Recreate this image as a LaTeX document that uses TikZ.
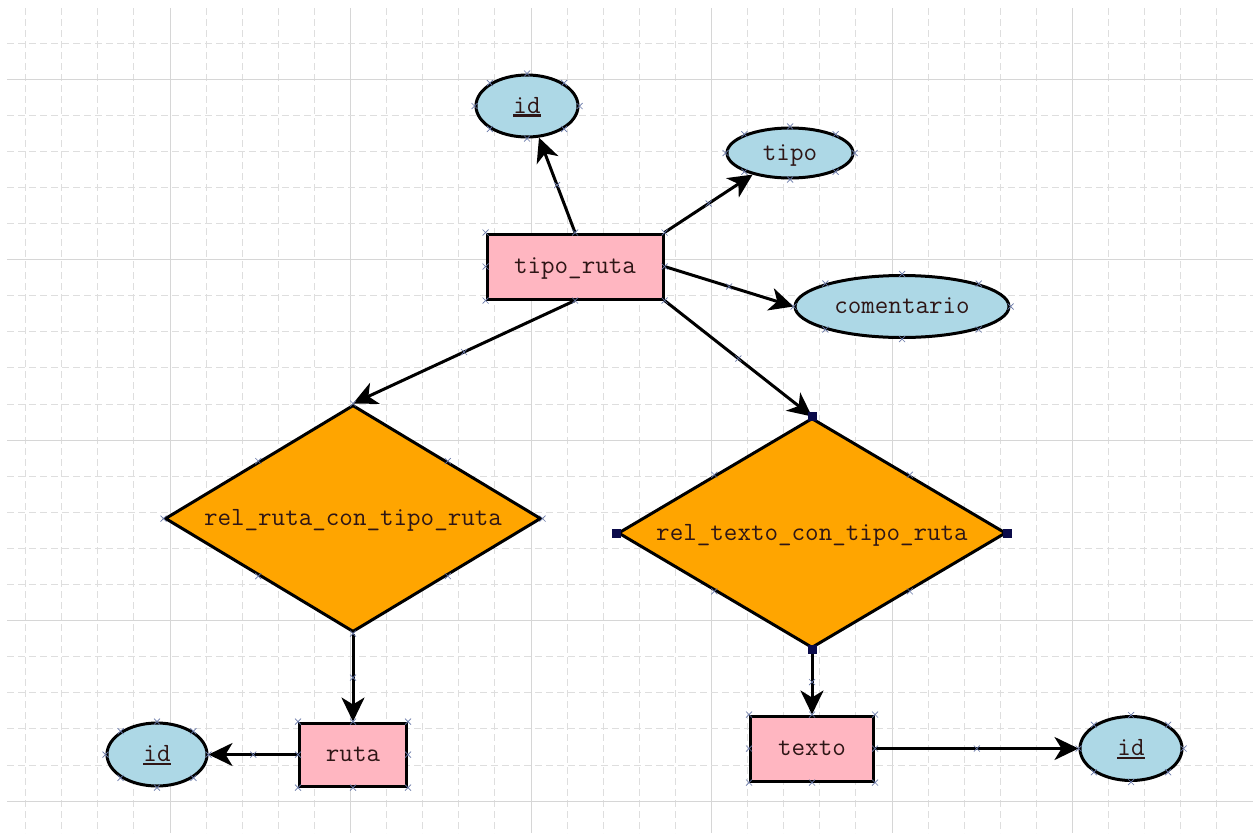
\documentclass[tikz,border=0pt]{standalone}
\usepackage{fontspec}
\usetikzlibrary{shapes.geometric,arrows.meta}
\definecolor{entfill}{HTML}{FFB6C1}
\definecolor{attfill}{HTML}{ADD8E6}
\definecolor{relfill}{HTML}{FFA500}
\definecolor{inktext}{HTML}{2E1616}
\definecolor{gridmajor}{HTML}{D6D6D6}
\definecolor{gridminor}{HTML}{DEDEDE}
\definecolor{markclr}{HTML}{6878A8}
\definecolor{handleclr}{HTML}{0B0B4A}
% primary key: text with a heavy rule below it
\newcommand\pkey[1]{\vtop{\hbox{#1}\kern1.2pt\hrule height 2.6pt}}

\begin{document}
\begin{tikzpicture}[x=1pt,y=-1pt,
  every node/.style={font=\ttfamily\fontsize{26.3}{30}\selectfont, text=inktext,
    text height=14pt, text depth=-8pt},
  entity/.style={draw=black, line width=3pt, fill=entfill, rectangle, inner sep=0pt},
  attr/.style={draw=black, line width=3pt, fill=attfill, ellipse, inner sep=0pt},
  relation/.style={draw=black, line width=3pt, fill=relfill, diamond, inner sep=0pt},
  rellabel/.style={inner sep=0pt},
  link/.style={line width=3pt, draw=black,
    -{Stealth[length=24pt,width=23pt,inset=7pt]}},
  minorline/.style={gridminor, line width=0.9pt, dash pattern=on 7pt off 4pt},
  majorline/.style={gridmajor, line width=1pt},
  xmark/.pic={\draw[arrows=-, markclr, line width=0.7pt, solid]
    (-3,-3) -- (3,3) (-3,3) -- (3,-3);},
]
% page and background
\useasboundingbox (0,0) rectangle (1253,833);
\fill[white] (0,0) rectangle (1253,833);

% grid
\foreach \i in {0,...,34} {
  \pgfmathsetmacro\gx{25.6+36.1*\i}
  \pgfmathtruncatemacro\gm{mod(\i+1,5)}
  \ifnum\gm=0
    \draw[majorline] (\gx,8) -- (\gx,833);
  \else
    \draw[minorline] (\gx,8) -- (\gx,833);
  \fi
}
\foreach \j in {0,...,21} {
  \pgfmathsetmacro\gy{43+36.1*\j}
  \pgfmathtruncatemacro\gm{mod(\j+4,5)}
  \ifnum\gm=0
    \draw[majorline] (7,\gy) -- (1253,\gy);
  \else
    \draw[minorline] (7,\gy) -- (1253,\gy);
  \fi
}

% entities
\node[entity, minimum width=176pt, minimum height=65pt] (tr) at (575,266.5) {tipo\_ruta};
\node[entity, minimum width=107pt, minimum height=63pt] (ruta) at (353,754.5) {ruta};
\node[entity, minimum width=123pt, minimum height=65pt] (texto) at (812,748.5) {texto};

% attributes
\node[attr, minimum width=102pt, minimum height=62pt] (id1) at (527,106) {\pkey{id}};
\node[attr, minimum width=126pt, minimum height=50pt] (tipo) at (790,153) {tipo};
\node[attr, minimum width=214pt, minimum height=62pt] (com) at (902,306.5) {comentario};
\node[attr, minimum width=100pt, minimum height=63pt] (id2) at (157,754.5) {\pkey{id}};
\node[attr, minimum width=102pt, minimum height=64pt] (id3) at (1131,748.5) {\pkey{id}};

% relationships
\node[relation, minimum width=376pt, minimum height=227pt] (r1) at (353,518.5) {};
\node[rellabel] (r1t) at (r1) {rel\_ruta\_con\_tipo\_ruta};
\node[relation, minimum width=388pt, minimum height=230pt] (r2) at (812,533) {};
\node[rellabel] (r2t) at (r2) {rel\_texto\_con\_tipo\_ruta};

% connectors
\draw[link] (tr.north) -- (id1) pic[pos=.5]{xmark};
\draw[link] (tr.north east) -- (tipo.210) pic[pos=.5]{xmark};
\draw[link] (tr.east) -- (com.west) pic[pos=.5]{xmark};
\draw[link] (tr.south) -- (r1.north) pic[pos=.5]{xmark};
\draw[link] (tr.south east) -- (r2.north) pic[pos=.5]{xmark};
\draw[link] (r1.south) -- (ruta.north) pic[pos=.5]{xmark};
\draw[link] (r2.south) -- (texto.north) pic[pos=.5]{xmark};
\draw[link] (ruta.west) -- (id2.east) pic[pos=.5]{xmark};
\draw[link] (texto.east) -- (id3.west) pic[pos=.5]{xmark};

% connection points
\foreach \n in {tr,ruta,texto,id1,tipo,com,id2,id3,r1}
  \foreach \a in {north west,north,north east,east,south east,south,south west,west}
    \path (\n.\a) pic{xmark};
\foreach \a in {north west,north east,south east,south west}
  \path (r2.\a) pic{xmark};

% selection handles
\foreach \a in {north,east,south,west}
  \fill[handleclr] (r2.\a) ++(-4.5,-4.5) rectangle ++(9,9);
\end{tikzpicture}
\end{document}
